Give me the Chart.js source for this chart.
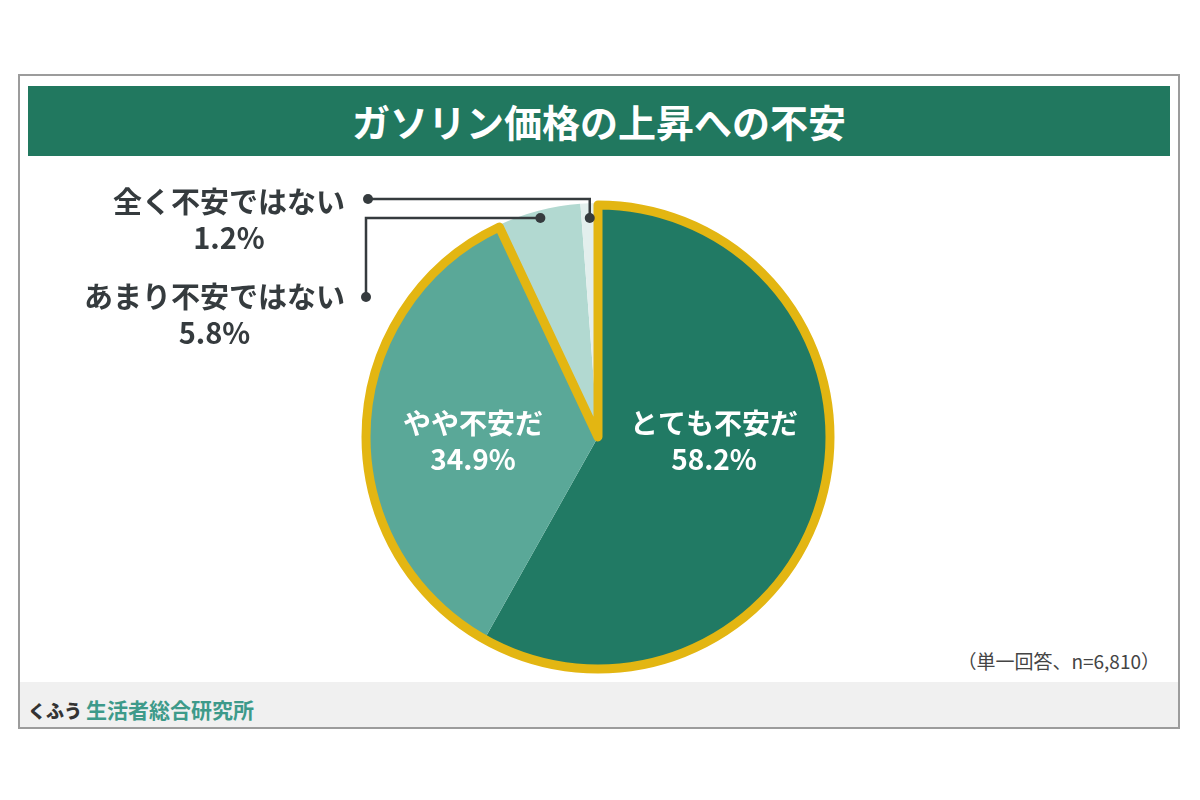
<!DOCTYPE html>
<html lang="ja">
<head>
<meta charset="utf-8">
<title>ガソリン価格の上昇への不安</title>
<script src="https://cdn.jsdelivr.net/npm/chart.js@4.4.1/dist/chart.umd.min.js"></script>
<style>
  html, body { margin: 0; padding: 0; background: #fff; }
  body {
    width: 1200px; height: 800px; position: relative; overflow: hidden;
    font-family: "Noto Sans CJK JP", "Noto Sans", sans-serif;
  }
  #frame {
    position: absolute; left: 18px; top: 74px;
    width: 1158px; height: 651px; border: 2px solid #9c9c9c;
  }
  #title {
    position: absolute; left: 28px; top: 86px; width: 1142px; height: 70px;
    background: #21785f; color: #fff; text-align: center;
    font-size: 38px; font-weight: 700; line-height: 70px;
  }
  #footer {
    position: absolute; left: 20px; top: 682px; width: 1158px; height: 45px;
    background: #f0f0f0;
  }
  #brand {
    position: absolute; left: 28px; top: 694px; line-height: 30px;
    font-size: 21px; font-weight: 700; color: #333;
  }
  #brand b { font-size: 18px; }
  #brand span { color: #3d9a8a; margin-left: 4px; }
  #note {
    position: absolute; right: 40px; top: 646px; line-height: 30px;
    font-size: 19px; color: #444;
  }
  #chart { position: absolute; left: 0; top: 0; }
</style>
</head>
<body>
<div id="frame"></div>
<div id="title">ガソリン価格の上昇への不安</div>
<div id="footer"></div>
<div id="brand"><b>くふう</b><span>生活者総合研究所</span></div>
<div id="note">（単一回答、n=6,810）</div>
<canvas id="chart" width="1200" height="800"></canvas>

<script>
// answers, in drawing order clockwise from 12 o'clock
const labels = ['とても不安だ', 'やや不安だ', 'あまり不安ではない', '全く不安ではない'];
const values = [58.2, 34.9, 5.8, 1.2];
const sliceColors = ['#217a64', '#5aa898', '#b2d9d1', '#e3efed'];

const GOLD = '#e3b612';
const INK = '#353b3e';
const FONT = '"Noto Sans CJK JP", "Noto Sans", sans-serif';

const pct = (v) => v.toFixed(1) + '%';

/**
 * Gold outline around the two "不安" slices, drawn from the arc elements.
 */
const outlinePlugin = {
    id: 'outline',
    afterDatasetsDraw(chart) {
        const arcs = chart.getDatasetMeta(0).data;
        const first = arcs[0], second = arcs[1];
        const ctx = chart.ctx;
        ctx.save();
        ctx.beginPath();
        ctx.moveTo(first.x, first.y);
        ctx.arc(first.x, first.y, first.outerRadius - 2, first.startAngle, second.endAngle);
        ctx.closePath();
        ctx.lineWidth = 9;
        ctx.lineJoin = 'round';
        ctx.strokeStyle = GOLD;
        ctx.stroke();
        ctx.restore();
    }
};

/**
 * Slice labels: two inside, two outside with elbow leader lines.
 */
const labelPlugin = {
    id: 'sliceLabels',
    afterDraw(chart) {
        const arcs = chart.getDatasetMeta(0).data;
        const ctx = chart.ctx;
        const cx = arcs[0].x, cy = arcs[0].y, r = arcs[0].outerRadius;
        ctx.save();
        ctx.textAlign = 'center';
        ctx.textBaseline = 'middle';
        ctx.font = '700 28px ' + FONT;

        // inside labels
        ctx.fillStyle = '#fff';
        ctx.fillText(labels[0], cx + 116, cy - 14);
        ctx.fillText(pct(values[0]), cx + 116, cy + 22);
        ctx.fillText(labels[1], cx - 125, cy - 14);
        ctx.fillText(pct(values[1]), cx - 125, cy + 22);

        // dots on the small slices, at their mid angles
        const dotY = cy - (r - 15);
        const dotX = (arc) => {
            const mid = (arc.startAngle + arc.endAngle) / 2 + Math.PI / 2;
            return cx + (cy - dotY) * Math.tan(mid);
        };
        const d3 = dotX(arcs[3]), d2 = dotX(arcs[2]);
        const rightEdge = 345;

        ctx.strokeStyle = INK;
        ctx.fillStyle = INK;
        ctx.lineWidth = 2.5;
        const dot = (x, y) => { ctx.beginPath(); ctx.arc(x, y, 5, 0, Math.PI * 2); ctx.fill(); };

        // 全く不安ではない
        ctx.beginPath();
        ctx.moveTo(d3, dotY);
        ctx.lineTo(d3, dotY - 19);
        ctx.lineTo(368, dotY - 19);
        ctx.stroke();
        dot(d3, dotY);
        dot(368, dotY - 19);

        // あまり不安ではない
        ctx.beginPath();
        ctx.moveTo(d2, dotY);
        ctx.lineTo(366, dotY);
        ctx.lineTo(366, 297);
        ctx.stroke();
        dot(d2, dotY);
        dot(366, 297);

        ctx.font = '700 29px ' + FONT;
        const block = (text, value, y) => {
            const w = ctx.measureText(text).width;
            const x = rightEdge - w / 2;
            ctx.fillText(text, x, y);
            ctx.fillText(pct(value), x, y + 36);
        };
        block(labels[3], values[3], 202);
        block(labels[2], values[2], 297);
        ctx.restore();
    }
};

new Chart(document.getElementById('chart'), {
    type: 'pie',
    data: {
        labels: labels,
        datasets: [{
            data: values,
            backgroundColor: sliceColors,
            borderWidth: 0
        }]
    },
    options: {
        responsive: false,
        animation: false,
        devicePixelRatio: 1,
        layout: { padding: { left: 364, right: 368, top: 203, bottom: 129 } },
        plugins: {
            legend: { display: false },
            tooltip: { enabled: false }
        }
    },
    plugins: [outlinePlugin, labelPlugin]
});
</script>
</body>
</html>
